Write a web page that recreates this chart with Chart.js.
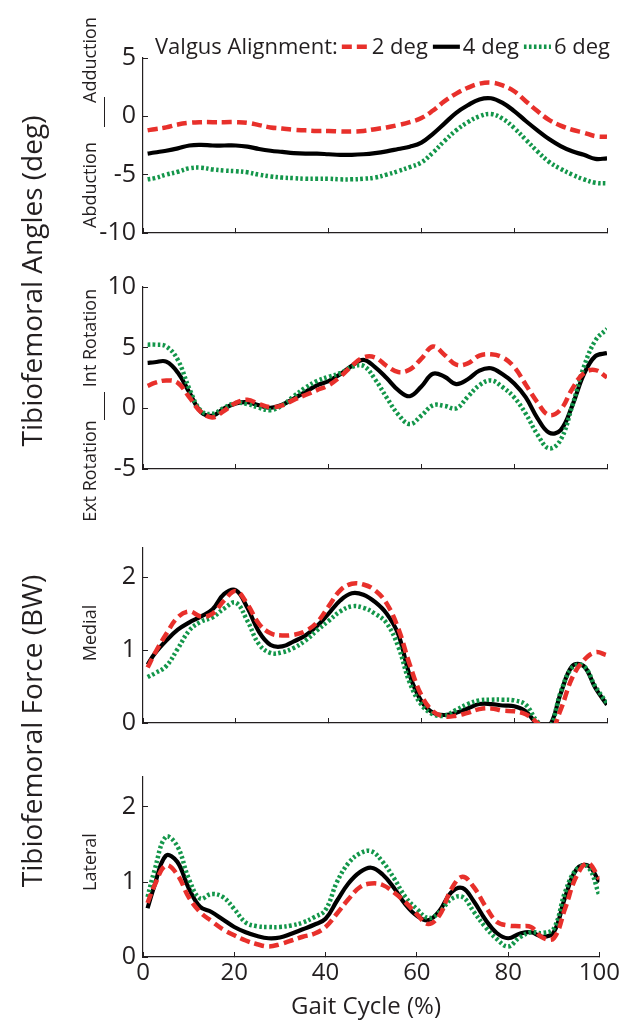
<!DOCTYPE html>
<html>
<head>
<meta charset="utf-8">
<title>Tibiofemoral angles and forces over the gait cycle</title>
<script src="https://cdn.jsdelivr.net/npm/chart.js@4.4.1/dist/chart.umd.min.js"></script>
<style>
  html, body { margin: 0; padding: 0; background: #ffffff; }
  #wrap { position: relative; width: 627px; height: 1021px; overflow: hidden;
          font-family: "Open Sans", sans-serif; color: #231f20; }
  #wrap canvas { position: absolute; left: 0; }
  .vlabel { position: absolute; white-space: nowrap; line-height: 1;
            transform: translate(-50%, -50%) rotate(-90deg); }
  .big { font-size: 28px; }
  .small { font-size: 18px; }
  .divider { position: absolute; width: 1px; background: #231f20; }
  #xtitle { position: absolute; font-size: 24px; line-height: 1; white-space: nowrap;
            transform: translate(-50%, -50%); }
</style>
</head>
<body>
<div id="wrap">
  <canvas id="angleAbd" width="627" height="260" style="top:0px"></canvas>
  <canvas id="angleRot" width="627" height="240" style="top:260px"></canvas>
  <canvas id="forceMed" width="627" height="250" style="top:500px"></canvas>
  <canvas id="forceLat" width="627" height="271" style="top:750px"></canvas>

  <div class="vlabel big" style="left:31px; top:281px;">Tibiofemoral Angles (deg)</div>
  <div class="vlabel big" style="left:31px; top:731px;">Tibiofemoral Force (BW)</div>

  <div class="vlabel small" style="left:89px; top:60px;">Adduction</div>
  <div class="vlabel small" style="left:89px; top:185px;">Abduction</div>
  <div class="divider" style="left:104px; top:97px; height:30px;"></div>

  <div class="vlabel small" style="left:89px; top:338px;">Int Rotation</div>
  <div class="vlabel small" style="left:89px; top:471px;">Ext Rotation</div>
  <div class="divider" style="left:104px; top:392px; height:28px;"></div>

  <div class="vlabel small" style="left:89px; top:633px;">Medial</div>
  <div class="vlabel small" style="left:89px; top:862px;">Lateral</div>

  <div id="xtitle" style="left:366px; top:1005px;">Gait Cycle (%)</div>
</div>

<script>
// Gait cycle samples (% of cycle)
const gaitCycle = [1, 2.5, 5, 7.5, 10, 12.5, 15, 17.5, 20, 22.5, 25, 27.5, 30, 32.5, 35, 37.5, 40,
  42.5, 45, 47.5, 50, 52.5, 55, 57.5, 60, 62.5, 65, 67.5, 70, 72.5, 75, 77.5, 80, 82.5, 85, 87.5,
  90, 92.5, 95, 97.5, 100];

const seriesLabels = ['2 deg', '4 deg', '6 deg'];
const legendTitle = 'Valgus Alignment:';

// Tick values
const cycleTicks = [0, 20, 40, 60, 80, 100];
const adductionTicks = [-10, -5, 0, 5];
const rotationTicks = [-5, 0, 5, 10];
const forceTicks = [0, 1, 2];

// Adduction (+) / abduction (-) angle, deg
const adduction2 = [-1.2, -1.1, -0.95, -0.7, -0.55, -0.5, -0.5, -0.5, -0.5, -0.55, -0.75, -0.95, -1.05,
  -1.15, -1.2, -1.25, -1.25, -1.3, -1.3, -1.25, -1.1, -0.95, -0.75, -0.5, -0.15, 0.5, 1.3, 1.95, 2.45,
  2.8, 2.9, 2.65, 2.15, 1.3, 0.45, -0.3, -0.8, -1.15, -1.4, -1.7, -1.75];
const adduction4 = [-3.2, -3.1, -2.95, -2.75, -2.5, -2.45, -2.5, -2.5, -2.5, -2.6, -2.8, -2.95, -3.05,
  -3.15, -3.2, -3.2, -3.25, -3.3, -3.3, -3.25, -3.15, -3.0, -2.8, -2.6, -2.25, -1.5, -0.6, 0.3, 0.95,
  1.45, 1.55, 1.15, 0.45, -0.4, -1.2, -1.95, -2.55, -3.0, -3.3, -3.65, -3.6];
const adduction6 = [-5.4, -5.3, -5.0, -4.75, -4.45, -4.4, -4.55, -4.65, -4.7, -4.8, -5.0, -5.15, -5.25,
  -5.3, -5.35, -5.35, -5.35, -5.4, -5.4, -5.35, -5.25, -5.0, -4.7, -4.35, -3.95, -3.1, -2.1, -1.2, -0.5,
  0.0, 0.2, -0.2, -1.0, -2.0, -3.0, -3.9, -4.5, -5.0, -5.4, -5.7, -5.75];

// Internal (+) / external (-) rotation, deg
const rotation2 = [1.85, 2.1, 2.3, 2.1, 0.9, -0.3, -0.75, -0.2, 0.45, 0.7, 0.35, 0.1, 0.25, 0.7, 1.1,
  1.5, 1.9, 2.6, 3.5, 4.2, 4.2, 3.5, 3.0, 3.2, 4.1, 5.1, 4.4, 3.6, 3.7, 4.35, 4.45, 4.2, 3.4, 1.95, 0.5,
  -0.55, -0.1, 1.6, 2.9, 3.15, 2.55];
const rotation4 = [3.75, 3.8, 3.85, 2.95, 1.3, -0.3, -0.6, 0.0, 0.4, 0.5, 0.25, 0.05, 0.3, 0.8, 1.35,
  1.9, 2.25, 2.8, 3.5, 4.0, 3.4, 2.5, 1.5, 1.0, 1.8, 2.85, 2.6, 2.0, 2.4, 3.1, 3.3, 2.8, 2.05, 0.9, -0.8,
  -2.0, -1.8, 0.2, 2.8, 4.3, 4.55];
const rotation6 = [5.25, 5.25, 5.1, 4.0, 1.6, -0.2, -0.45, 0.05, 0.45, 0.35, 0.05, -0.15, 0.25, 1.0, 1.7,
  2.25, 2.6, 2.9, 3.4, 3.5, 2.4, 0.9, -0.5, -1.3, -0.6, 0.25, 0.2, 0.0, 0.95, 1.9, 2.3, 1.75, 0.9, -0.45,
  -2.15, -3.3, -2.6, 0.2, 3.4, 5.6, 6.55];

// Medial compartment force, BW
const medial2 = [0.76, 0.95, 1.22, 1.45, 1.53, 1.46, 1.5, 1.68, 1.81, 1.63, 1.36, 1.23, 1.2, 1.21, 1.26,
  1.38, 1.6, 1.82, 1.91, 1.9, 1.82, 1.64, 1.3, 0.8, 0.38, 0.16, 0.09, 0.1, 0.14, 0.19, 0.2, 0.17, 0.16,
  0.12, 0.0, -0.15, 0.18, 0.62, 0.86, 0.97, 0.93];
const medial4 = [0.8, 0.95, 1.13, 1.28, 1.38, 1.46, 1.56, 1.77, 1.82, 1.58, 1.25, 1.07, 1.05, 1.12, 1.2,
  1.33, 1.5, 1.68, 1.78, 1.76, 1.66, 1.5, 1.22, 0.65, 0.3, 0.14, 0.11, 0.14, 0.2, 0.26, 0.26, 0.24, 0.23,
  0.16, -0.01, -0.05, 0.4, 0.78, 0.78, 0.48, 0.25];
const medial6 = [0.63, 0.68, 0.78, 1.02, 1.27, 1.39, 1.45, 1.57, 1.65, 1.4, 1.08, 0.96, 0.97, 1.03, 1.13,
  1.27, 1.4, 1.53, 1.6, 1.58, 1.5, 1.37, 1.05, 0.55, 0.25, 0.12, 0.1, 0.18, 0.26, 0.31, 0.32, 0.32, 0.31,
  0.25, 0.02, -0.08, 0.42, 0.76, 0.78, 0.5, 0.27];

// Lateral compartment force, BW
const lateral2 = [0.72, 0.95, 1.22, 1.1, 0.8, 0.6, 0.48, 0.37, 0.29, 0.22, 0.17, 0.14, 0.17, 0.22, 0.27,
  0.31, 0.4, 0.58, 0.77, 0.93, 0.98, 0.96, 0.86, 0.73, 0.57, 0.44, 0.56, 0.9, 1.07, 0.93, 0.68, 0.47,
  0.42, 0.41, 0.4, 0.26, 0.25, 0.65, 1.08, 1.25, 1.04];
const lateral4 = [0.65, 0.95, 1.35, 1.27, 0.92, 0.67, 0.6, 0.5, 0.4, 0.33, 0.28, 0.25, 0.26, 0.31, 0.37,
  0.43, 0.51, 0.75, 0.98, 1.13, 1.19, 1.1, 0.92, 0.7, 0.55, 0.49, 0.62, 0.86, 0.92, 0.74, 0.5, 0.32,
  0.25, 0.31, 0.33, 0.27, 0.33, 0.8, 1.17, 1.22, 1.0];
const lateral6 = [0.8, 1.15, 1.6, 1.48, 1.05, 0.78, 0.84, 0.8, 0.64, 0.46, 0.41, 0.4, 0.4, 0.42, 0.46,
  0.53, 0.63, 1.0, 1.25, 1.38, 1.41, 1.27, 1.05, 0.8, 0.64, 0.52, 0.6, 0.77, 0.8, 0.6, 0.4, 0.24, 0.14,
  0.26, 0.33, 0.32, 0.38, 0.87, 1.17, 1.2, 0.82];

const ink = '#231f20';
const fontFamily = '"Open Sans", sans-serif';
Chart.defaults.font.family = fontFamily;
Chart.defaults.color = ink;

// Line style per valgus alignment: red dashed, black solid, green dotted
const lineStyles = [
  { color: '#e8302b', width: 4.5, dash: [10, 5], order: 0 },
  { color: '#000000', width: 4.2, dash: [], order: 2 },
  { color: '#13964a', width: 4.5, dash: [2.6, 2.4], order: 1 }
];

// Legend drawn inline above the first panel
const inlineLegend = {
  id: 'inlineLegend',
  afterDraw(chart, args, opts) {
    if (!opts || !opts.show) return;
    const ctx = chart.ctx;
    const y = chart.chartArea.top + opts.offsetY;
    let x = opts.x;
    ctx.save();
    ctx.font = opts.fontSize + 'px ' + fontFamily;
    ctx.fillStyle = ink;
    ctx.textBaseline = 'alphabetic';
    ctx.fillText(opts.title, x, y);
    x += ctx.measureText(opts.title).width + opts.gapAfterTitle;
    chart.data.datasets.forEach(ds => {
      ctx.save();
      ctx.strokeStyle = ds.borderColor;
      ctx.lineWidth = ds.borderWidth;
      ctx.setLineDash(ds.borderDash || []);
      ctx.beginPath();
      ctx.moveTo(x, y - opts.fontSize * 0.33);
      ctx.lineTo(x + opts.sample, y - opts.fontSize * 0.33);
      ctx.stroke();
      ctx.restore();
      x += opts.sample + opts.gapAfterSample;
      ctx.fillText(ds.label, x, y);
      x += ctx.measureText(ds.label).width + opts.gapAfterLabel;
    });
    ctx.restore();
  }
};

function makePanel(canvasId, series, yRange, yTicks, layout) {
  const datasets = series.map((values, i) => ({
    label: seriesLabels[i],
    data: gaitCycle.map((x, k) => ({ x: x, y: values[k] })),
    borderColor: lineStyles[i].color,
    borderWidth: lineStyles[i].width,
    borderDash: lineStyles[i].dash,
    borderCapStyle: 'butt',
    order: lineStyles[i].order,
    pointRadius: 0,
    tension: 0.4,
    fill: false,
    clip: 0
  }));

  return new Chart(document.getElementById(canvasId), {
    type: 'line',
    data: { datasets },
    plugins: [inlineLegend],
    options: {
      responsive: false,
      animation: false,
      devicePixelRatio: 1,
      layout: { padding: { left: 0, right: 20, top: layout.top, bottom: 0 } },
      plugins: {
        legend: { display: false },
        tooltip: { enabled: false },
        inlineLegend: layout.legend || { show: false }
      },
      scales: {
        x: {
          type: 'linear',
          min: 0,
          max: 100,
          afterBuildTicks: s => { s.ticks = cycleTicks.map(v => ({ value: v })); },
          afterFit: s => { s.height = layout.xHeight; },
          ticks: { display: layout.xLabels, font: { size: 24 }, color: ink, padding: 7, maxRotation: 0 },
          grid: { drawOnChartArea: false, drawTicks: true, tickLength: -5, color: ink, lineWidth: 1 },
          border: { display: true, color: ink, width: 1.2 }
        },
        y: {
          type: 'linear',
          min: yRange[0],
          max: yRange[1],
          afterBuildTicks: s => { s.ticks = yTicks.map(v => ({ value: v })); },
          afterFit: s => { s.width = 143; },
          ticks: { font: { size: 25 }, color: ink, padding: 12 },
          grid: { drawOnChartArea: false, drawTicks: true, tickLength: -5, color: ink, lineWidth: 1 },
          border: { display: true, color: ink, width: 1.2 }
        }
      }
    }
  });
}

makePanel('angleAbd', [adduction2, adduction4, adduction6], [-10, 5], adductionTicks, {
  top: 58, xHeight: 17, xLabels: false,
  legend: { show: true, title: legendTitle, x: 155, offsetY: -4, fontSize: 22,
            sample: 27, gapAfterTitle: 4, gapAfterSample: 3, gapAfterLabel: 5 }
});
makePanel('angleRot', [rotation2, rotation4, rotation6], [-5, 10], rotationTicks, {
  top: 24, xHeight: 31, xLabels: false
});
makePanel('forceMed', [medial2, medial4, medial6], [0, 2.4], forceTicks, {
  top: 48, xHeight: 19, xLabels: false
});
makePanel('forceLat', [lateral2, lateral4, lateral6], [0, 2.4], forceTicks, {
  top: 24, xHeight: 64, xLabels: true
});
</script>
</body>
</html>
